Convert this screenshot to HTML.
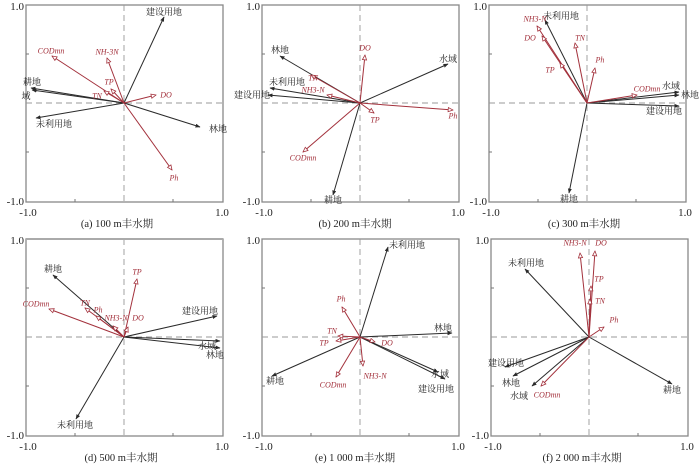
<!DOCTYPE html>
<html><head><meta charset="utf-8"><style>
html,body{margin:0;padding:0;background:#fff;}
svg{display:block;}
.k{stroke:#2a2a2a;stroke-width:1;fill:none;marker-end:url(#mk)}
.r{stroke:#a3313c;stroke-width:1;fill:none;marker-end:url(#mr)}
.lk{font-family:"Liberation Serif","Noto Serif CJK SC","Noto Sans CJK SC",serif;font-size:9px;fill:#222;text-anchor:middle;dominant-baseline:central}
.lr{font-family:"Liberation Serif",serif;font-style:italic;font-size:8px;fill:#a3313c;text-anchor:middle;dominant-baseline:central}
.ax{font-family:"Liberation Serif",serif;font-size:11px;fill:#222}
.cap{font-family:"Liberation Serif","Noto Serif CJK SC",serif;font-size:10.5px;fill:#222;text-anchor:middle}
.fr{fill:none;stroke:#888;stroke-width:1.3}
.d{stroke:#999;stroke-width:0.9;stroke-dasharray:6,4}
</style></head><body>
<svg width="700" height="466" viewBox="0 0 700 466" xmlns="http://www.w3.org/2000/svg">
<defs>
<marker id="mk" viewBox="0 0 10 10" refX="9" refY="5" markerWidth="5" markerHeight="5" orient="auto"><path d="M0,1 L10,5 L0,9 z" fill="#2a2a2a"/></marker>
<marker id="mr" viewBox="0 0 10 10" refX="9" refY="5" markerWidth="6" markerHeight="6" orient="auto"><path d="M1,1.5 L9,5 L1,8.5 z" fill="#fff" stroke="#a3313c" stroke-width="1.3"/></marker>
<g id="frame">
<rect class="fr" x="-98" y="-98" width="197" height="197"/>
<line class="d" x1="-98" y1="0" x2="99" y2="0"/>
<line class="d" x1="0" y1="-98" x2="0" y2="99"/>
<path d="M-98,-49h3M-98,49h3M-49,99v-3M49,99v-3" stroke="#777"/>
<text class="ax" x="-100" y="-93" text-anchor="end">1.0</text>
<text class="ax" x="-100" y="102" text-anchor="end">-1.0</text>
<text class="ax" x="-96" y="113" text-anchor="middle">-1.0</text>
<text class="ax" x="98" y="113" text-anchor="middle">1.0</text>
</g>
</defs>

<!-- (a) -->
<g transform="translate(124,103)">
<use href="#frame"/>
<line class="k" x1="0" y1="0" x2="40" y2="-86"/><text class="lk" x="40" y="-91">建设用地</text>
<line class="k" x1="0" y1="0" x2="-93" y2="-15"/><line class="k" x1="0" y1="0" x2="-92" y2="-13"/>
<text class="lk" x="-92" y="-21">耕地</text><text class="lk" x="-98" y="-7">域</text>
<line class="k" x1="0" y1="0" x2="-88" y2="15"/><text class="lk" x="-70" y="21">未利用地</text>
<line class="k" x1="0" y1="0" x2="76" y2="24"/><text class="lk" x="94" y="26">林地</text>
<line class="r" x1="0" y1="0" x2="-72" y2="-47"/><text class="lr" x="-73" y="-52">CODmn</text>
<line class="r" x1="0" y1="0" x2="-17" y2="-45"/><text class="lr" x="-17" y="-51">NH-3N</text>
<line class="r" x1="0" y1="0" x2="-13" y2="-14"/><text class="lr" x="-15" y="-21">TP</text>
<line class="r" x1="0" y1="0" x2="-20" y2="-12"/><text class="lr" x="-27" y="-7">TN</text>
<line class="r" x1="0" y1="0" x2="32" y2="-8"/><text class="lr" x="42" y="-8">DO</text>
<line class="r" x1="0" y1="0" x2="48" y2="67"/><text class="lr" x="50" y="75">Ph</text>
<text class="cap" x="-7" y="124">(a) 100 m丰水期</text>
</g>

<!-- (b) -->
<g transform="translate(360,103)">
<use href="#frame"/>
<line class="k" x1="0" y1="0" x2="-80" y2="-47"/><text class="lk" x="-80" y="-53">林地</text>
<line class="k" x1="0" y1="0" x2="88" y2="-39"/><text class="lk" x="88" y="-44">水域</text>
<line class="k" x1="0" y1="0" x2="-90" y2="-15"/><text class="lk" x="-73" y="-21">未利用地</text>
<line class="k" x1="0" y1="0" x2="-92" y2="-8"/><text class="lk" x="-108" y="-8">建设用地</text>
<line class="k" x1="0" y1="0" x2="-27" y2="92"/><text class="lk" x="-27" y="97">耕地</text>
<line class="r" x1="0" y1="0" x2="5" y2="-48"/><text class="lr" x="5" y="-55">DO</text>
<line class="r" x1="0" y1="0" x2="-49" y2="-28"/><text class="lr" x="-47" y="-25">TN</text>
<line class="r" x1="0" y1="0" x2="-33" y2="-8"/><text class="lr" x="-47" y="-13">NH3-N</text>
<line class="r" x1="0" y1="0" x2="14" y2="10"/><text class="lr" x="15" y="17">TP</text>
<line class="r" x1="0" y1="0" x2="93" y2="7"/><text class="lr" x="93" y="13">Ph</text>
<line class="r" x1="0" y1="0" x2="-57" y2="49"/><text class="lr" x="-57" y="55">CODmn</text>
<text class="cap" x="-5" y="124">(b) 200 m丰水期</text>
</g>

<!-- (c) -->
<g transform="translate(587,103)">
<use href="#frame"/>
<line class="k" x1="0" y1="0" x2="-42" y2="-83"/><text class="lk" x="-26" y="-87">未利用地</text>
<line class="k" x1="0" y1="0" x2="-18" y2="90"/><text class="lk" x="-18" y="96">耕地</text>
<line class="k" x1="0" y1="0" x2="92" y2="-11"/><text class="lk" x="84" y="-17">水域</text>
<line class="k" x1="0" y1="0" x2="92" y2="-8"/><text class="lk" x="103" y="-8">林地</text>
<line class="k" x1="0" y1="0" x2="92" y2="3"/><text class="lk" x="77" y="8">建设用地</text>
<line class="r" x1="0" y1="0" x2="-50" y2="-77"/><text class="lr" x="-52" y="-84">NH3-N</text>
<line class="r" x1="0" y1="0" x2="-45" y2="-67"/><text class="lr" x="-57" y="-65">DO</text>
<line class="r" x1="0" y1="0" x2="-27" y2="-40"/><text class="lr" x="-37" y="-33">TP</text>
<line class="r" x1="0" y1="0" x2="-12" y2="-60"/><text class="lr" x="-7" y="-65">TN</text>
<line class="r" x1="0" y1="0" x2="8" y2="-35"/><text class="lr" x="13" y="-43">Ph</text>
<line class="r" x1="0" y1="0" x2="50" y2="-8"/><text class="lr" x="60" y="-14">CODmn</text>
<text class="cap" x="-3" y="124">(c) 300 m丰水期</text>
</g>

<!-- (d) -->
<g transform="translate(124,337)">
<use href="#frame"/>
<line x1="-98" y1="-98" x2="99" y2="-98" stroke="#aaa" stroke-width="2"/>
<line class="k" x1="0" y1="0" x2="-71" y2="-62"/><text class="lk" x="-71" y="-68">耕地</text>
<line class="k" x1="0" y1="0" x2="93" y2="-21"/><text class="lk" x="76" y="-26">建设用地</text>
<line class="k" x1="0" y1="0" x2="96" y2="4"/><text class="lk" x="83" y="9">水域</text>
<line class="k" x1="0" y1="0" x2="96" y2="11"/><text class="lk" x="91" y="18">林地</text>
<line class="k" x1="0" y1="0" x2="-48" y2="82"/><text class="lk" x="-49" y="88">未利用地</text>
<line class="r" x1="0" y1="0" x2="13" y2="-58"/><text class="lr" x="13" y="-65">TP</text>
<line class="r" x1="0" y1="0" x2="-75" y2="-28"/><text class="lr" x="-88" y="-33">CODmn</text>
<line class="r" x1="0" y1="0" x2="-39" y2="-29"/><text class="lr" x="-39" y="-34">TN</text>
<line class="r" x1="0" y1="0" x2="-28" y2="-21"/><text class="lr" x="-26" y="-27">Ph</text>
<line class="r" x1="0" y1="0" x2="-11" y2="-11"/><text class="lr" x="-8" y="-19">NH3-N</text>
<line class="r" x1="0" y1="0" x2="4" y2="-10"/><text class="lr" x="14" y="-19">DO</text>
<text class="cap" x="-3" y="124">(d) 500 m丰水期</text>
</g>

<!-- (e) -->
<g transform="translate(360,337)">
<use href="#frame"/>
<line class="k" x1="0" y1="0" x2="28" y2="-90"/><text class="lk" x="47" y="-92">未利用地</text>
<line class="k" x1="0" y1="0" x2="92" y2="-4"/><text class="lk" x="83" y="-9">林地</text>
<line class="k" x1="0" y1="0" x2="78" y2="35"/><text class="lk" x="80" y="37">水域</text>
<line class="k" x1="0" y1="0" x2="85" y2="42"/><text class="lk" x="76" y="52">建设用地</text>
<line class="k" x1="0" y1="0" x2="-88" y2="39"/><text class="lk" x="-85" y="44">耕地</text>
<line class="r" x1="0" y1="0" x2="-18" y2="-30"/><text class="lr" x="-19" y="-38">Ph</text>
<line class="r" x1="0" y1="0" x2="-22" y2="-1"/><text class="lr" x="-28" y="-6">TN</text>
<line class="r" x1="0" y1="0" x2="-24" y2="4"/><text class="lr" x="-36" y="6">TP</text>
<line class="r" x1="0" y1="0" x2="15" y2="5"/><text class="lr" x="27" y="6">DO</text>
<line class="r" x1="0" y1="0" x2="3" y2="29"/><text class="lr" x="15" y="39">NH3-N</text>
<line class="r" x1="0" y1="0" x2="-24" y2="40"/><text class="lr" x="-27" y="48">CODmn</text>
<text class="cap" x="-5" y="124">(e) 1 000 m丰水期</text>
</g>

<!-- (f) -->
<g transform="translate(589,337)">
<use href="#frame"/>
<line class="k" x1="0" y1="0" x2="-64" y2="-68"/><text class="lk" x="-63" y="-74">未利用地</text>
<line class="k" x1="0" y1="0" x2="-84" y2="30"/><text class="lk" x="-83" y="26">建设用地</text>
<line class="k" x1="0" y1="0" x2="-76" y2="39"/><text class="lk" x="-78" y="46">林地</text>
<line class="k" x1="0" y1="0" x2="-57" y2="49"/><text class="lk" x="-70" y="59">水域</text>
<line class="k" x1="0" y1="0" x2="83" y2="47"/><text class="lk" x="83" y="53">耕地</text>
<line class="r" x1="0" y1="0" x2="-9" y2="-84"/><text class="lr" x="-14" y="-94">NH3-N</text>
<line class="r" x1="0" y1="0" x2="6" y2="-86"/><text class="lr" x="12" y="-94">DO</text>
<line class="r" x1="0" y1="0" x2="2" y2="-51"/><text class="lr" x="10" y="-58">TP</text>
<line class="r" x1="0" y1="0" x2="1" y2="-38"/><text class="lr" x="11" y="-36">TN</text>
<line class="r" x1="0" y1="0" x2="15" y2="-10"/><text class="lr" x="25" y="-17">Ph</text>
<line class="r" x1="0" y1="0" x2="-48" y2="49"/><text class="lr" x="-42" y="58">CODmn</text>
<text class="cap" x="-7" y="124">(f) 2 000 m丰水期</text>
</g>
</svg>
</body></html>
